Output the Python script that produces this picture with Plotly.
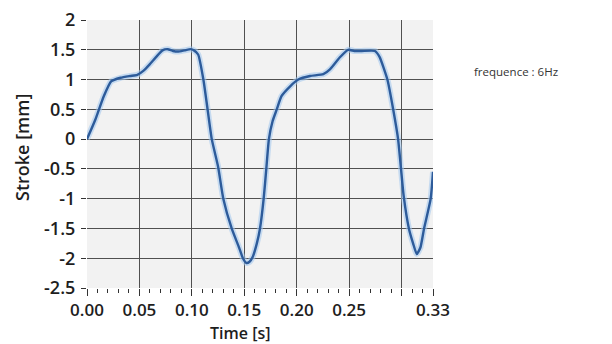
import plotly.graph_objects as go

# ---- data ----
time_s = [0.000, 0.008, 0.016, 0.023, 0.032, 0.041, 0.048, 0.054, 0.060, 0.066,
          0.072, 0.077, 0.082, 0.087, 0.093, 0.099, 0.102, 0.106, 0.111, 0.115,
          0.119, 0.125, 0.130, 0.138, 0.145, 0.1487, 0.152, 0.155, 0.158, 0.162,
          0.165, 0.1685, 0.171, 0.1735, 0.177, 0.181, 0.1855, 0.194, 0.2015, 0.2127,
          0.2254, 0.2317, 0.241, 0.249, 0.255, 0.262, 0.2746, 0.279, 0.2865, 0.292,
          0.2967, 0.2995, 0.302, 0.307, 0.311, 0.3145, 0.318, 0.3215, 0.3278, 0.330]
stroke_mm = [0.00, 0.33, 0.72, 0.97, 1.03, 1.06, 1.08, 1.15, 1.26, 1.38,
             1.49, 1.51, 1.48, 1.47, 1.49, 1.51, 1.49, 1.42, 1.00, 0.50,
             0.00, -0.46, -1.00, -1.50, -1.82, -2.00, -2.08, -2.06, -1.98, -1.75,
             -1.50, -1.00, -0.50, 0.00, 0.30, 0.50, 0.72, 0.89, 1.00, 1.06,
             1.09, 1.17, 1.37, 1.50, 1.48, 1.48, 1.48, 1.38, 1.00, 0.50,
             0.00, -0.50, -0.95, -1.50, -1.75, -1.93, -1.82, -1.50, -1.00, -0.55]

x_tick_vals = [0.00, 0.05, 0.10, 0.15, 0.20, 0.25, 0.30, 0.33]
x_tick_text = ["0.00", "0.05", "0.10", "0.15", "0.20", "0.25", "", "0.33"]
x_grid_vals = [0.00, 0.05, 0.10, 0.15, 0.20, 0.25, 0.30]
y_tick_vals = [-2.5, -2, -1.5, -1, -0.5, 0, 0.5, 1, 1.5, 2]
y_tick_text = ["-2.5", "-2", "-1.5", "-1", "-0.5", "0", "0.5", "1", "1.5", "2"]
y_grid_vals = [-2, -1.5, -1, -0.5, 0, 0.5, 1, 1.5, 2]

x_range = [0, 0.33]
y_range = [-2.5, 2]

FONT = "Open Sans"
GRID = "#505050"
TXT = "#1e1e1e"

PW, PH = 346, 268  # plot area size in px

fig = go.Figure()
# soft halo under the line
fig.add_trace(go.Scatter(x=time_s, y=stroke_mm, mode="lines",
                         line=dict(color="rgba(160,198,238,0.55)", width=6, shape="spline", smoothing=0.5),
                         hoverinfo="skip", showlegend=False))
fig.add_trace(go.Scatter(x=time_s, y=stroke_mm, mode="lines",
                         line=dict(color="#2d5b9a", width=2.4, shape="spline", smoothing=0.5),
                         showlegend=False))

fig.update_layout(
    width=604, height=336,
    margin=dict(l=79, r=604 - 79 - PW, t=12, b=336 - 12 - PH, autoexpand=False),
    paper_bgcolor="white",
    plot_bgcolor="#f2f2f2",
    font=dict(family=FONT, color=TXT),
    xaxis=dict(range=x_range, tickmode="array", tickvals=x_tick_vals, ticktext=x_tick_text,
               showgrid=False, zeroline=False, showline=False, automargin=False,
               ticks="outside", ticklen=7, tickwidth=1.3, tickcolor="#333",
               ticklabelstandoff=0, ticklabeloverflow="allow",
               minor=dict(dtick=0.01, tick0=0, ticks="outside", ticklen=4, tickwidth=1.2,
                          tickcolor="#333", showgrid=False),
               tickfont=dict(size=17, family=FONT, weight=600, color=TXT)),
    xaxis2=dict(range=x_range, overlaying="x", matches="x", tickmode="array", tickvals=x_grid_vals,
                showticklabels=False, ticks="", showgrid=True, gridcolor=GRID, gridwidth=1.3,
                zeroline=False, showline=False, automargin=False),
    yaxis=dict(range=y_range, tickmode="array", tickvals=y_tick_vals, ticktext=y_tick_text,
               showgrid=False, zeroline=False, showline=False, automargin=False,
               ticks="outside", ticklen=5, tickwidth=1.3, tickcolor="#333",
               ticklabelstandoff=2, ticklabeloverflow="allow",
               tickfont=dict(size=18, family=FONT, weight=600, color=TXT)),
    yaxis2=dict(range=y_range, overlaying="y", matches="y", tickmode="array", tickvals=y_grid_vals,
                showticklabels=False, ticks="", showgrid=True, gridcolor=GRID, gridwidth=1.3,
                zeroline=False, showline=False, automargin=False),
    annotations=[
        dict(text="Time [s]", xref="paper", yref="paper", x=(240 - 87) / PW, y=-45 / PH,
             xanchor="center", yanchor="middle", showarrow=False,
             font=dict(size=16, family=FONT, weight=600, color=TXT)),
        dict(text="Stroke [mm]", xref="paper", yref="paper", x=-(87 - 22) / PW, y=(288 - 148) / PH,
             xanchor="center", yanchor="middle", showarrow=False, textangle=-90,
             font=dict(size=18, family=FONT, weight=600, color=TXT)),
        dict(text="frequence : 6Hz", xref="paper", yref="paper", x=(472 - 87) / PW, y=(288 - 71) / PH,
             xanchor="left", yanchor="middle", showarrow=False,
             font=dict(size=11.5, family=FONT, color="#333")),
    ],
)
# dummy trace so the overlay axes are drawn
fig.add_trace(go.Scatter(x=[None], y=[None], xaxis="x2", yaxis="y2", showlegend=False, hoverinfo="skip"))

fig.write_html("out.html")
